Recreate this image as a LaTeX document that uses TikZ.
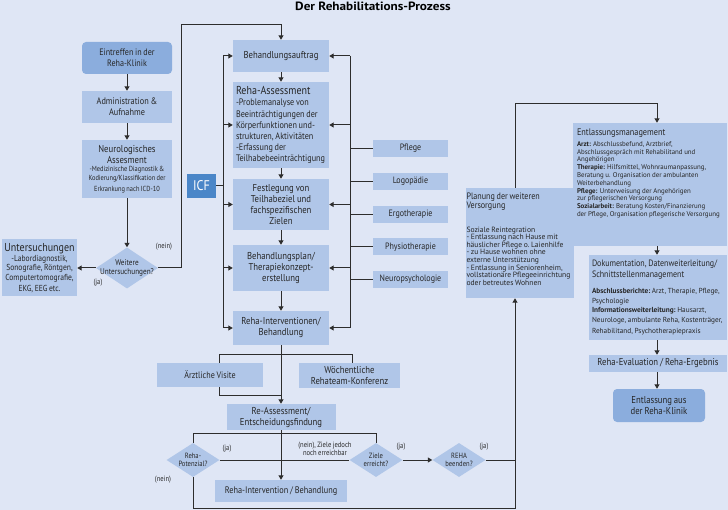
\documentclass[tikz,border=0pt]{standalone}
\usepackage{fontspec}
\setmainfont[FakeStretch=0.87,WordSpace=0.8]{PT Sans}
\newfontfamily\breit[WordSpace=0.85]{PT Sans}
\newfontfamily\titelfont[FakeStretch=1.1]{PT Sans}
\usetikzlibrary{shapes.geometric,arrows.meta}
\definecolor{hgrund}{RGB}{223,230,245}
\definecolor{kastenblau}{RGB}{176,198,232}
\definecolor{kastendunkel}{RGB}{139,173,221}
\definecolor{icfblau}{RGB}{74,134,200}
\definecolor{strichfarbe}{RGB}{45,45,45}
\hyphenpenalty=10000
\exhyphenpenalty=10000
\tikzset{
  kasten/.style={fill=kastenblau, align=flush center, inner xsep=0pt, inner ysep=1pt, text=black!85,
    font=\fontsize{10}{11}\selectfont},
  rund/.style={kasten, fill=kastendunkel, rounded corners=4pt},
  links/.style={align=flush left, inner xsep=3pt},
  raute/.style={diamond, fill=kastenblau, inner sep=0pt},
  rautentext/.style={align=center, text=black!85, font=\fontsize{7.6}{8.6}\selectfont},
  strich/.style={draw=strichfarbe, line width=1pt},
  pfeil/.style={strich, -{Triangle[length=4.5pt,width=5pt]}},
  marke/.style={text=black!85, font=\fontsize{7.6}{8.4}\selectfont}
}
\begin{document}
\begin{tikzpicture}[x=1pt,y=-1pt]
\useasboundingbox (0,0) rectangle (728,510);
\fill[hgrund] (0,0) rectangle (728,510);
\node[font=\titelfont\bfseries\fontsize{12}{13}\selectfont] (titel) at (373,6) {Der Rehabilitations-Prozess};

\coordinate (kl) at (219,355);
\coordinate (kr) at (352,355);
\coordinate (ku) at (219,395);
\coordinate (km) at (281,395);
\coordinate (kk) at (352,375);
\draw[strich] (km) -- (ku) -- (kl) -- (kr) -- (kk);

\node[rund, text width=90pt, minimum height=32pt, font=\fontsize{9.3}{11}\selectfont] (eintreffen) at (127,58) {Eintreffen in der\\Reha-Klinik};
\node[kasten, text width=90pt, minimum height=32pt, font=\fontsize{9.5}{11}\selectfont] (aufnahme) at (127,107) {Administration \&\\Aufnahme};
\node[kasten, text width=90pt, minimum height=58pt] (neuro) at (127,169) {Neurologisches\\Assesment\par
  \fontsize{7.35}{8.7}\selectfont -Medizinische Diagnostik \&\\Kodierung/Klassifikation der\\Erkrankung nach ICD-10};
\node[raute, minimum width=62pt, minimum height=41pt] (weitere) at (127,268) {};
\node[rautentext, font=\fontsize{8.3}{9.5}\selectfont] (weiteretext) at (weitere) {Weitere\\Untersuchungen?};
\node[kasten, text width=75pt, minimum height=57pt] (untersuchungen) at (39.5,268) {{\fontsize{11.5}{12}\selectfont Untersuchungen\par}
  \fontsize{8.7}{9.7}\selectfont -Labordiagnostik,\\Sonografie, Röntgen,\\Computertomografie,\\EKG, EEG etc.};

\node[kasten, text width=96pt, minimum height=32pt] (auftrag) at (281,56) {Behandlungsauftrag};
\node[kasten, links, text width=90pt, minimum height=86pt] (assess) at (281,125) {{\fontsize{11.5}{12}\selectfont Reha-Assessment\par}
  \fontsize{9.4}{11.1}\selectfont -Problemanalyse von\\Beeinträchtigungen der\\Körperfunktionen und-\\strukturen, Aktivitäten\\-Erfassung der\\Teilhabebeeinträchtigung};
\node[kasten, text width=96pt, minimum height=51pt] (festlegung) at (281,204.5) {Festlegung von\\Teilhabeziel und\\fachspezifischen\\Zielen};
\node[kasten, text width=96pt, minimum height=46pt] (plan) at (281,268) {Behandlungsplan/\\Therapiekonzept-\\erstellung};
\node[kasten, text width=96pt, minimum height=34pt] (interv) at (281,328) {Reha-Interventionen/\\Behandlung};
\node[kasten, fill=icfblau, text=white, text width=29pt, minimum height=24pt, font=\fontsize{14}{14}\selectfont] (icf) at (201.5,186) {ICF};

\node[kasten, text width=75pt, minimum height=17pt, font=\fontsize{9.2}{10}\selectfont] (pflege) at (410.5,148.5) {Pflege};
\node[kasten, text width=75pt, minimum height=17pt, font=\fontsize{9.2}{10}\selectfont] (logo) at (410.5,181.5) {Logopädie};
\node[kasten, text width=75pt, minimum height=17pt, font=\fontsize{9.2}{10}\selectfont] (ergo) at (410.5,214.5) {Ergotherapie};
\node[kasten, text width=75pt, minimum height=17pt, font=\fontsize{9.2}{10}\selectfont] (physio) at (410.5,247) {Physiotherapie};
\node[kasten, text width=75pt, minimum height=17pt, font=\fontsize{9.2}{10}\selectfont] (neuropsych) at (410.5,279.5) {Neuropsychologie};

\node[kasten, text width=106pt, minimum height=24pt, font=\fontsize{9.3}{10}\selectfont] (visite) at (210,375) {Ärztliche Visite};
\node[kasten, text width=101pt, minimum height=25pt] (konferenz) at (349.5,375.5) {Wöchentliche\\Rehateam-Konferenz};
\node[kasten, text width=109pt, minimum height=26pt] (reassess) at (281,417) {Re-Assessment/\\Entscheidungsfindung};
\node[kasten, text width=132pt, minimum height=22pt, font=\fontsize{9.5}{10}\selectfont] (interv2) at (281,491) {Reha-Intervention / Behandlung};

\node[raute, minimum width=53pt, minimum height=34pt] (potenzial) at (193,460) {};
\node[rautentext] (potenzialtext) at (potenzial) {Reha-\\Potenzial?};
\node[raute, minimum width=53pt, minimum height=34pt] (ziele) at (376,460) {};
\node[rautentext] (zieletext) at (ziele) {Ziele\\erreicht?};
\node[raute, minimum width=53pt, minimum height=34pt] (beenden) at (459,460) {};
\node[rautentext] (beendentext) at (beenden) {REHA\\beenden?};

\node[kasten, links, inner xsep=0.5pt, text width=107pt, minimum height=110pt] (planung) at (520,243) {{\fontsize{9.3}{9.5}\selectfont Planung der weiteren\\Versorgung\par}
  \vspace{16pt}\breit\fontsize{7.6}{7.6}\selectfont Soziale Reintegration\\- Entlassung nach Hause mit\\häuslicher~Pflege~o.~Laienhilfe\\- zu Hause wohnen ohne\\externe Unterstützung\\- Entlassung in Seniorenheim,\\vollstationäre~Pflegeeinrichtung\\oder betreutes Wohnen\par\vspace{8pt}};

\node[kasten, links, inner xsep=4pt, text width=146pt, minimum height=123pt] (entlass) at (650,184.5) {{\fontsize{9.5}{10}\selectfont Entlassungsmanagement\par}
  \vspace{3pt}\breit\fontsize{6.9}{7.8}\selectfont \textbf{Arzt:} Abschlussbefund, Arztbrief,\\Abschlussgespräch mit Rehabilitand und\\Angehörigen\\\textbf{Therapie:} Hilfsmittel, Wohnraumanpassung,\\Beratung u. Organisation der ambulanten\\Weiterbehandlung\\\textbf{Pflege:} Unterweisung der Angehörigen\\zur pflegerischen Versorgung\\\textbf{Sozialarbeit:} Beratung Kosten/Finanzierung\\der~Pflege,~Organisation~pflegerische~Versorgung\par\vspace{22pt}};
\node[kasten, links, inner xsep=3pt, text width=132pt, minimum height=85pt] (doku) at (658,297.5) {{\fontsize{9.2}{10.7}\selectfont Dokumentation,~Datenweiterleitung/\\Schnittstellenmanagement\par}
  \vspace{7pt}\breit\fontsize{7.3}{9.5}\selectfont \textbf{Abschlussberichte:}~Arzt,~Therapie,~Pflege,\\Psychologie\\\textbf{Informationsweiterleitung:}~Hausarzt,\\Neurologe,~ambulante~Reha,~Kostenträger,\\Rehabilitand, Psychotherapiepraxis};
\node[kasten, text width=138pt, minimum height=17pt] (eval) at (658,363.5) {Reha-Evaluation / Reha-Ergebnis};
\node[rund, text width=92pt, minimum height=33pt] (ende) at (659,405.5) {Entlassung aus\\der Reha-Klinik};

\node[marke] (nein1) at (164,247) {(nein)};
\node[marke] (ja1) at (98,283) {(ja)};
\node[marke] (ja2) at (227,449) {(ja)};
\node[marke] (nein2) at (163,480) {(nein)};
\node[marke, align=center] (nochziele) at (325,449) {(nein), Ziele jedoch\\noch erreichbar};
\node[marke] (ja3) at (401,447) {(ja)};
\node[marke] (ja4) at (484,447) {(ja)};

\coordinate (knick) at (181,25);
\coordinate (lbus) at (223,0);
\coordinate (rbus) at (350,0);
\coordinate (ql) at (193,433);
\coordinate (qr) at (376,433);
\coordinate (pcol) at (515,508);
\coordinate (rknick) at (657,104);

\draw[pfeil] (eintreffen) -- (aufnahme);
\draw[pfeil] (aufnahme) -- (neuro);
\draw[pfeil] (neuro) -- (weitere);
\draw[pfeil] (weitere) -- (untersuchungen);
\draw[pfeil] (weitere.east) -| (knick) -| (auftrag.north);

\foreach \a/\b in {auftrag/assess,assess/festlegung,festlegung/plan,plan/interv,interv/reassess,reassess/interv2}
  \draw[pfeil] (\a) -- (\b);
\draw[strich] (auftrag.west -| lbus) -- (interv.west -| lbus);
\draw[strich] (auftrag.east -| rbus) -- (interv.east -| rbus);
\foreach \b in {auftrag,assess,festlegung,plan,interv} {
  \draw[pfeil] (\b.west -| lbus) -- (\b.west);
  \draw[pfeil] (\b.east -| rbus) -- (\b.east);
}
\foreach \t in {pflege,logo,ergo,physio,neuropsych}
  \draw[strich] (\t.west -| rbus) -- (\t.west);
\draw[strich] (icf.east) -- (icf.east -| lbus);

\draw[strich] (potenzial.north) -- (ql) -- (qr) -- (ziele.north);
\draw[strich] (potenzial.east) -- (ziele.west);
\draw[pfeil] (ziele.east) -- (beenden.west);
\draw[pfeil] (potenzial.south) |- (pcol) -- (planung.south -| pcol);
\draw[strich] (beenden.east) -- (beenden.east -| pcol);

\draw[pfeil] (planung.north -| pcol) |- (rknick) -- (entlass.north -| rknick);
\draw[pfeil] (entlass.south -| rknick) -- (doku.north -| rknick);
\draw[pfeil] (doku.south -| rknick) -- (eval.north -| rknick);
\draw[pfeil] (eval.south -| rknick) -- (ende.north -| rknick);
\end{tikzpicture}
\end{document}
